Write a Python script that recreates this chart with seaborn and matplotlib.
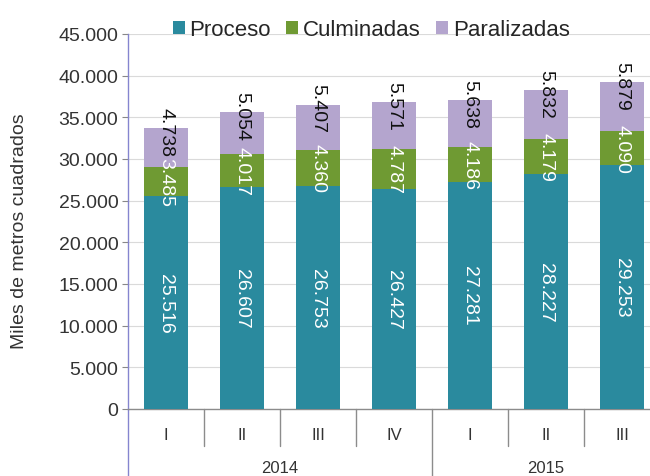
import matplotlib
matplotlib.use("Agg")
import matplotlib.pyplot as plt
import matplotlib.transforms as mtransforms
from matplotlib.patches import Patch
import seaborn as sns
import pandas as pd

# ---- data ----
quarters = ["I", "II", "III", "IV", "I", "II", "III"]
years = ["2014", "2014", "2014", "2014", "2015", "2015", "2015"]
proceso = [25516, 26607, 26753, 26427, 27281, 28227, 29253]
culminadas = [3485, 4017, 4360, 4787, 4186, 4179, 4090]
paralizadas = [4738, 5054, 5407, 5571, 5638, 5832, 5879]
series_names = ["Proceso", "Culminadas", "Paralizadas"]
y_ticks = [0, 5000, 10000, 15000, 20000, 25000, 30000, 35000, 40000, 45000]

# ---- style ----
c_proc = "#2A8A9E"
c_culm = "#6F9A33"
c_para = "#B4A5CE"
axis_blue = "#8585CF"

sns.set_theme(style="white")
plt.rcParams["font.family"] = ["Liberation Sans", "DejaVu Sans"]

keys = [f"{y}-{q}" for y, q in zip(years, quarters)]
df = pd.DataFrame({
    "key": keys,
    "proceso": proceso,
    "culminadas": culminadas,
    "paralizadas": paralizadas,
})
df["pc"] = df["proceso"] + df["culminadas"]
df["total"] = df["pc"] + df["paralizadas"]

fig = plt.figure(figsize=(6.5, 4.77), dpi=100)
ax = fig.add_axes([128 / 650, 1 - 410 / 477, 522 / 650, 375 / 477])

bw = 0.58
for col, c, z in (("total", c_para, 2), ("pc", c_culm, 3), ("proceso", c_proc, 4)):
    sns.barplot(data=df, x="key", y=col, order=keys, color=c, width=bw,
                saturation=1, ax=ax, zorder=z, linewidth=0, edgecolor="none")

n = len(keys)
ax.set_xlim(-0.5, -0.5 + 522 / 76)
ax.set_ylim(0, 45000)
ax.set_yticks(y_ticks)
ax.set_yticklabels([f"{v:,}".replace(",", ".") for v in y_ticks])
ax.yaxis.grid(True, color="#DADADA", lw=0.8, zorder=0)
ax.set_axisbelow(True)
ax.set_xlabel("")
ax.set_ylabel("")

ax.set_xticks(range(n))
ax.set_xticklabels(quarters)
ax.tick_params(axis="x", length=0, pad=13, labelsize=12, colors="#333333")
ax.tick_params(axis="y", left=True, length=4, width=0.8, color="#888888",
               pad=3, labelsize=14, colors="#333333")

for s in ["top", "right"]:
    ax.spines[s].set_visible(False)
ax.spines["left"].set_color(axis_blue)
ax.spines["left"].set_linewidth(1.0)
ax.spines["bottom"].set_color("#8C8C8C")
ax.spines["bottom"].set_linewidth(1.0)

# value labels
for i in range(n):
    ax.text(i, proceso[i] / 2, f"{proceso[i]:,}".replace(",", "."),
            rotation=270, ha="center", va="center", color="white",
            fontsize=14, zorder=6)
    ax.text(i, proceso[i] + culminadas[i] / 2,
            f"{culminadas[i]:,}".replace(",", "."),
            rotation=270, ha="center", va="center", color="white",
            fontsize=14, zorder=6)
    top = proceso[i] + culminadas[i] + paralizadas[i]
    ax.text(i, top - 400, f"{paralizadas[i]:,}".replace(",", "."),
            rotation=270, ha="center", va="center", color="#111111",
            fontsize=14, zorder=6)

# category separators and year labels
trans = mtransforms.blended_transform_factory(ax.transData, ax.transAxes)
short_y = -(447 - 410) / 375
long_y = -(477 - 410) / 375
for b in range(1, n):
    x = b - 0.5
    yend = long_y if years[b] != years[b - 1] else short_y
    ax.plot([x, x], [0, yend], transform=trans, color="#8C8C8C",
            lw=1.0, clip_on=False)
ax.plot([-0.5, -0.5], [0, long_y], transform=trans, color=axis_blue,
        lw=1.0, clip_on=False)

uniq_years = []
for y in years:
    if y not in uniq_years:
        uniq_years.append(y)
for yv in uniq_years:
    idx = [i for i, y in enumerate(years) if y == yv]
    xc = (idx[0] + idx[-1]) / 2
    ax.text(xc, -(469 - 410) / 375, yv, transform=trans, ha="center",
            va="center", fontsize=12, color="#333333")

fig.text(20 / 650, 1 - 231 / 477, "Miles de metros cuadrados", rotation=90,
         ha="center", va="center", fontsize=14, color="#333333")

handles = [Patch(facecolor=c, edgecolor="none") for c in (c_proc, c_culm, c_para)]
fig.legend(handles, series_names, loc="center", bbox_to_anchor=(0.571, 1 - 31 / 477),
           ncol=3, frameon=False, fontsize=16, handlelength=0.55, handleheight=0.55,
           handletextpad=0.2, columnspacing=0.7, borderpad=0)

fig.savefig("out.png", dpi=100, facecolor="white")
